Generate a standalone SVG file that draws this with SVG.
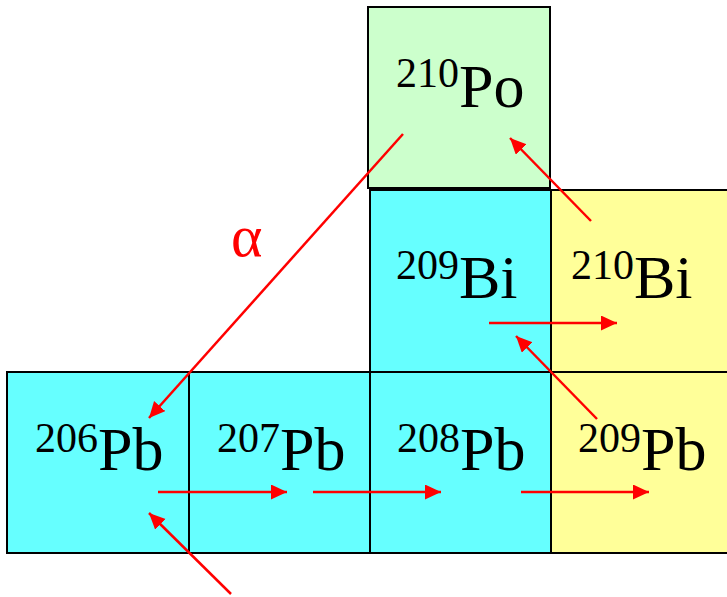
<svg xmlns="http://www.w3.org/2000/svg" width="727" height="597" viewBox="0 0 727 597">
<defs>
<style>
.box{stroke:#000;stroke-width:2}
.g{fill:#CCFFCC}.c{fill:#66FFFF}.y{fill:#FFFF99}
text{font-family:"Liberation Serif","DejaVu Serif",serif}
.sup{font-size:42px;fill:#000}
.sym{font-size:62px;fill:#000}
.arr{stroke:#FF0000;stroke-width:2.5;fill:none;marker-end:url(#ah)}
.lbl{font-size:60px;fill:#FF0000}
</style>
<marker id="ah" markerUnits="userSpaceOnUse" markerWidth="17" markerHeight="16" refX="16" refY="7.5" orient="auto">
<path d="M0,0 L16,7.5 L0,15 z" fill="#FF0000"/>
</marker>
</defs>
<rect width="727" height="597" fill="#fff"/>
<g id="Po210"><rect class="box g" x="368" y="7" width="182" height="181"/><text x="396" y="87" class="sup">210</text><text x="459" y="107" class="sym">Po</text></g>
<g id="Bi209"><rect class="box c" x="370" y="190" width="181" height="182"/><text x="396" y="279" class="sup">209</text><text x="459" y="298" class="sym">Bi</text></g>
<g id="Bi210"><rect class="box y" x="551" y="190" width="190" height="182"/><text x="571" y="279" class="sup">210</text><text x="634" y="298" class="sym">Bi</text></g>
<g id="Pb206"><rect class="box c" x="7" y="372" width="182" height="181"/><text x="35" y="452" class="sup">206</text><text x="98" y="470" class="sym">Pb</text></g>
<g id="Pb207"><rect class="box c" x="189" y="372" width="181" height="181"/><text x="217" y="452" class="sup">207</text><text x="280" y="470" class="sym">Pb</text></g>
<g id="Pb208"><rect class="box c" x="370" y="372" width="181" height="181"/><text x="397" y="452" class="sup">208</text><text x="460" y="470" class="sym">Pb</text></g>
<g id="Pb209"><rect class="box y" x="551" y="372" width="190" height="181"/><text x="578" y="452" class="sup">209</text><text x="641" y="470" class="sym">Pb</text></g>
<g id="connectors">
<line class="arr" x1="403" y1="134" x2="149" y2="418"/>
<text x="231" y="256" class="lbl">α</text>
<line class="arr" x1="591" y1="221" x2="510" y2="138"/>
<line class="arr" x1="489" y1="323" x2="617" y2="323"/>
<line class="arr" x1="597" y1="419" x2="516" y2="336"/>
<line class="arr" x1="158" y1="492" x2="287" y2="492"/>
<line class="arr" x1="313" y1="492" x2="441" y2="492"/>
<line class="arr" x1="521" y1="492" x2="649" y2="492"/>
<line class="arr" x1="231" y1="594" x2="149" y2="513"/>
</g>
</svg>
